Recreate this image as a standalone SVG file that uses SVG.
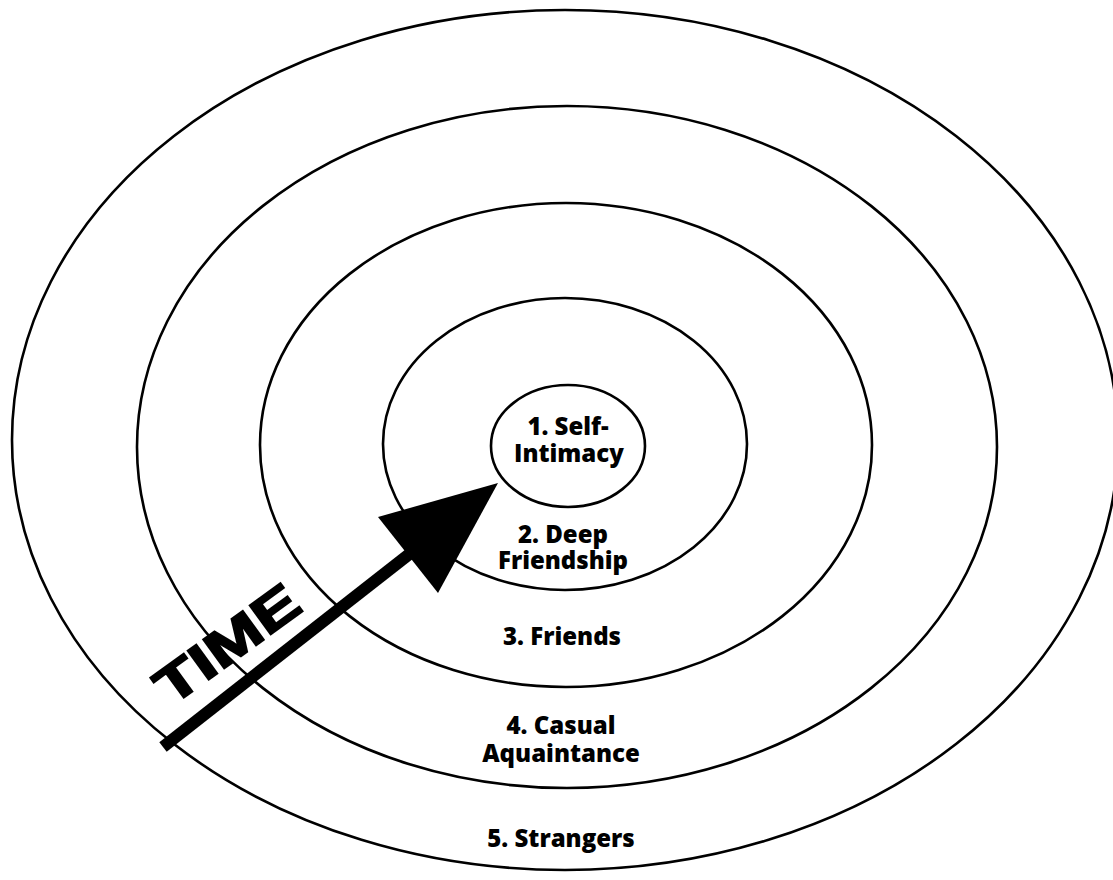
<svg xmlns="http://www.w3.org/2000/svg" width="1113" height="880" viewBox="0 0 1113 880">
<style>
.ring{fill:none;stroke:#000;stroke-width:2.6}
.lbl{font-family:"Open Sans","Liberation Sans",sans-serif;font-weight:800;font-size:24px;fill:#000;text-anchor:middle}
.time{font-family:"Liberation Sans","Open Sans",sans-serif;font-weight:700;font-size:52px;fill:#000;stroke:#000;stroke-width:2}
</style>
<rect width="1113" height="880" fill="#fff"/>
<g id="ring5"><ellipse class="ring" cx="565" cy="440" rx="553" ry="430"/><text class="lbl" x="561" y="847">5. Strangers</text></g>
<g id="ring4"><ellipse class="ring" cx="567" cy="447" rx="430" ry="341"/><text class="lbl" x="561" y="734">4. Casual</text><text class="lbl" x="561" y="762">Aquaintance</text></g>
<g id="ring3"><ellipse class="ring" cx="566" cy="445" rx="306" ry="242"/><text class="lbl" x="562" y="645">3. Friends</text></g>
<g id="ring2"><ellipse class="ring" cx="565" cy="444" rx="182" ry="146"/><text class="lbl" x="563" y="543">2. Deep</text><text class="lbl" x="563" y="569">Friendship</text></g>
<g id="ring1"><ellipse class="ring" cx="568" cy="446" rx="77" ry="61"/><text class="lbl" x="568" y="435">1. Self-</text><text class="lbl" x="569" y="462">Intimacy</text></g>
<g id="connectors">
<line x1="163" y1="747" x2="412" y2="552" stroke="#000" stroke-width="12" stroke-linecap="butt"/>
<polygon points="498,483 378,517 438,593" fill="#000"/>
<text class="time" x="0" y="0" transform="translate(171,707) rotate(-36)" textLength="165" lengthAdjust="spacingAndGlyphs">TIME</text>
</g>
</svg>
